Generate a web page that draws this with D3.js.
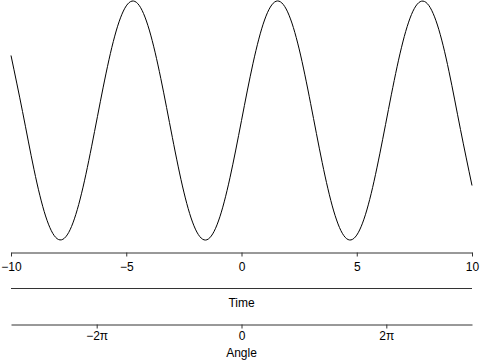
<!DOCTYPE html>
<html>
<head>
  <meta charset="utf-8">
  <title>Time and angle</title>
  <script src="https://d3js.org/d3.v7.min.js"></script>
  <style>
    body { margin: 0; background: #fff; }
    svg { display: block; font-family: "Liberation Sans", Arial, sans-serif; }
    .axis path, .axis line { stroke: #333; }
    .axis text { font-size: 12px; fill: #000; }
    .lab { font-size: 12px; fill: #000; }
  </style>
</head>
<body>
<div id="chart"></div>
<script>

const width = 480;
const height = 360;

// time points and the curve values
const times = [-10, -9.5, -9, -8.5, -8, -7.5, -7, -6.5, -6, -5.5, -5, -4.5, -4, -3.5, -3, -2.5, -2, -1.5, -1, -0.5,
  0, 0.5, 1, 1.5, 2, 2.5, 3, 3.5, 4, 4.5, 5, 5.5, 6, 6.5, 7, 7.5, 8, 8.5, 9, 9.5, 10];
const values = [0.544, 0.075, -0.412, -0.799, -0.989, -0.938, -0.657, -0.215, 0.279, 0.706, 0.959, 0.978, 0.757, 0.351, -0.141, -0.599, -0.909, -0.998, -0.841, -0.479,
  0, 0.479, 0.841, 0.998, 0.909, 0.599, 0.141, -0.351, -0.757, -0.978, -0.959, -0.706, -0.279, 0.215, 0.657, 0.938, 0.989, 0.799, 0.412, -0.075, -0.544];

const timeTicks = [-10, -5, 0, 5, 10];
const angleTicks = [-2 * Math.PI, 0, 2 * Math.PI];
const angleLabels = ["\u22122\u03c0", "0", "2\u03c0"];

const x = d3.scaleLinear().domain([-10, 10]).range([11, 472]);
const y = d3.scaleLinear().domain([-1, 1]).range([240, 1]);

const svg = d3.select("#chart").append("svg")
    .attr("width", width)
    .attr("height", height);

const line = d3.line()
    .x((d, i) => x(times[i]))
    .y(d => y(d))
    .curve(d3.curveNatural);

svg.append("path")
    .datum(values)
    .attr("fill", "none")
    .attr("stroke", "#000")
    .attr("stroke-width", 1)
    .attr("d", line);

// time axis
const timeAxis = d3.axisBottom(x)
    .tickValues(timeTicks)
    .tickFormat(d => d3.format("")(d).replace("-", "\u2212"))
    .tickSizeInner(4)
    .tickSizeOuter(0)
    .tickPadding(6);

svg.append("g")
    .attr("class", "axis")
    .attr("transform", "translate(0,252.5)")
    .call(timeAxis)
    .call(g => g.selectAll("text").attr("font-family", null).attr("font-size", null));

// plain line with the "Time" label under it
svg.append("line")
    .attr("x1", x(-10)).attr("x2", x(10))
    .attr("y1", 288.5).attr("y2", 288.5)
    .attr("stroke", "#333");

svg.append("text")
    .attr("class", "lab")
    .attr("x", x(0))
    .attr("y", 307)
    .attr("text-anchor", "middle")
    .text("Time");

// angle axis
const angleAxis = d3.axisBottom(x)
    .tickValues(angleTicks)
    .tickFormat((d, i) => angleLabels[i])
    .tickSizeInner(4)
    .tickSizeOuter(0)
    .tickPadding(3);

svg.append("g")
    .attr("class", "axis")
    .attr("transform", "translate(0,324.5)")
    .call(angleAxis)
    .call(g => g.selectAll("text").attr("font-family", null).attr("font-size", null));

svg.append("text")
    .attr("class", "lab")
    .attr("x", x(0))
    .attr("y", 357)
    .attr("text-anchor", "middle")
    .text("Angle");

</script>
</body>
</html>
